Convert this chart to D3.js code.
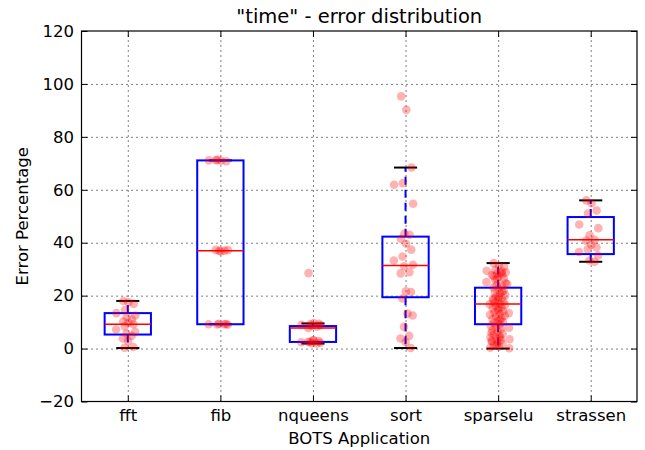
<!DOCTYPE html>
<html>
<head>
<meta charset="utf-8">
<script src="https://cdn.jsdelivr.net/npm/d3@7"></script>
<style>
  body { margin: 0; background: #fff; }
  text { font-family: "DejaVu Sans", sans-serif; }
</style>
</head>
<body>
<div id="chart"></div>
<script>
// categories on the x axis
const apps = ["fft", "fib", "nqueens", "sort", "sparselu", "strassen"];

// box statistics
const q1 = [5.3, 9.2, 2.5, 19.4, 9.2, 35.7];
const medians = [9.2, 37.0, 7.8, 31.4, 16.8, 41.1];
const q3 = [13.4, 71.1, 8.5, 42.3, 23.0, 49.7];
const whiskerLow = [0.2, 9.2, 1.9, 0.2, 0.0, 32.8];
const whiskerHigh = [18.0, 71.1, 9.5, 68.4, 32.3, 56.0];

// individual runs (error %)
const fftPts = [18.0, 17.5, 16.9, 14.6, 13.4, 12.5, 11.9, 11.0, 10.2, 9.7, 9.2, 8.4, 7.2, 6.3, 5.7, 4.8, 3.8, 2.9, 0.6, 0.3];
const fibPts = [71.2, 71.0, 70.8, 71.3, 71.1, 37.2, 36.9, 37.0, 37.3, 36.8, 9.3, 9.1, 9.2, 9.0, 9.4, 9.2];
const nqueensPts = [28.5, 9.6, 9.4, 9.2, 9.0, 8.8, 8.6, 8.3, 7.8, 3.0, 2.8, 2.6, 2.4, 2.2, 2.0, 1.9, 2.5, 3.1];
const sortPts = [95.3, 90.2, 68.4, 62.5, 61.9, 54.7, 43.4, 43.0, 41.5, 39.6, 37.4, 34.8, 33.3, 31.7, 31.1, 28.9, 28.4, 21.6, 21.4, 18.9, 13.2, 12.5, 8.2, 4.8, 3.8, 2.5, 0.2];
const sparseluPts = [32.3, 31.2, 30.9, 29.7, 29.4, 28.8, 28.3, 28.1, 27.4, 27.2, 26.5, 26.0, 25.1, 24.8, 24.0, 23.6, 23.1, 22.7, 21.9, 21.3, 21.0, 20.2, 19.8, 19.1, 18.8, 18.4, 17.9, 17.3, 16.9, 16.5, 16.1, 15.6, 15.2, 14.5, 14.1, 13.7, 13.0, 12.4, 12.1, 11.5, 11.2, 10.4, 10.0, 9.7, 9.1, 8.6, 8.3, 7.4, 6.8, 6.5, 5.6, 5.3, 4.6, 4.2, 3.5, 3.2, 2.7, 2.2, 1.8, 1.2, 0.8, 0.3, 0.1, 28.6, 27.8, 26.2, 21.6, 18.2, 15.0, 12.8, 7.9, 4.3, 2.9, 1.4, 29.1, 24.4, 19.6, 16.7, 13.4, 10.8, 5.9, 3.7];
const strassenPts = [56.0, 54.9, 52.2, 51.0, 46.9, 45.5, 42.8, 41.1, 40.8, 39.2, 38.3, 37.5, 36.5, 35.2, 33.3, 32.8];
const points = [fftPts, fibPts, nqueensPts, sortPts, sparseluPts, strassenPts];

const yTicks = [-20, 0, 20, 40, 60, 80, 100, 120];

const width = 645, height = 450;
const marginLeft = 81.5, marginRight = 8, marginTop = 31, marginBottom = 48.5;
const plotLeft = marginLeft, plotRight = width - marginRight;
const plotTop = marginTop, plotBottom = height - marginBottom;

const x = d3.scaleLinear().domain([0.5, apps.length + 0.5]).range([plotLeft, plotRight]);
const y = d3.scaleLinear().domain([-20, 120]).range([plotBottom, plotTop]);
const pos = apps.map((d, i) => i + 1);

const svg = d3.select("#chart").append("svg")
  .attr("width", width)
  .attr("height", height);

// grid
svg.append("g")
  .attr("transform", `translate(${plotLeft},0)`)
  .call(d3.axisLeft(y).tickValues(yTicks.slice(1, -1)).tickSize(-(plotRight - plotLeft)).tickFormat(""))
  .call(g => g.select(".domain").remove())
  .selectAll("line").attr("stroke", "#000").attr("stroke-width", 1).attr("stroke-dasharray", "1,4");
svg.append("g")
  .attr("transform", `translate(0,${plotBottom})`)
  .call(d3.axisBottom(x).tickValues(pos).tickSize(-(plotBottom - plotTop)).tickFormat(""))
  .call(g => g.select(".domain").remove())
  .selectAll("line").attr("stroke", "#000").attr("stroke-width", 1).attr("stroke-dasharray", "1,4");

// boxes
const bw = 0.25; // half box width in x units
const boxes = svg.append("g");
apps.forEach((a, i) => {
  const c = x(pos[i]);
  const hw = x(pos[i] + bw) - c;
  const cw = hw / 2;
  const g = boxes.append("g");
  // whiskers
  g.append("line").attr("x1", c).attr("x2", c).attr("y1", y(q3[i])).attr("y2", y(whiskerHigh[i]))
    .attr("stroke", "#0000ff").attr("stroke-width", 2).attr("stroke-dasharray", "8,5");
  g.append("line").attr("x1", c).attr("x2", c).attr("y1", y(q1[i])).attr("y2", y(whiskerLow[i]))
    .attr("stroke", "#0000ff").attr("stroke-width", 2).attr("stroke-dasharray", "8,5");
  // caps
  [whiskerLow[i], whiskerHigh[i]].forEach(v => {
    g.append("line").attr("x1", c - cw).attr("x2", c + cw).attr("y1", y(v)).attr("y2", y(v))
      .attr("stroke", "#000").attr("stroke-width", 2);
  });
  // box
  g.append("rect").attr("x", c - hw).attr("width", 2 * hw)
    .attr("y", y(q3[i])).attr("height", y(q1[i]) - y(q3[i]))
    .attr("fill", "none").attr("stroke", "#0000ff").attr("stroke-width", 2);
  // median
  g.append("line").attr("x1", c - hw).attr("x2", c + hw).attr("y1", y(medians[i])).attr("y2", y(medians[i]))
    .attr("stroke", "#ff0000").attr("stroke-width", 1.5);
});

// jittered points (deterministic spread around each category)
const spread = (i) => {
  const a = (i * 0.6180339887) % 1;
  const b = (i * 0.7548776662 + 0.31) % 1;
  return (a + b - 1) * 0.15;
};
const pts = svg.append("g");
points.forEach((arr, k) => {
  pts.selectAll(null).data(arr).enter().append("circle")
    .attr("cx", (d, j) => x(pos[k] + spread(j + 1)))
    .attr("cy", d => y(d))
    .attr("r", 4.3)
    .attr("fill", "#ff0000")
    .attr("fill-opacity", 0.3);
});

// axes with inside ticks
svg.append("g")
  .attr("transform", `translate(${plotLeft},0)`)
  .call(d3.axisLeft(y).tickValues(yTicks).tickSizeInner(-6).tickSizeOuter(0).tickPadding(7.5))
  .call(g => g.select(".domain").remove())
  .call(g => g.selectAll("text").attr("font-size", "16.5px").attr("fill", "#000").attr("font-family", "DejaVu Sans"));
svg.append("g")
  .attr("transform", `translate(${plotRight},0)`)
  .call(d3.axisRight(y).tickValues(yTicks).tickSizeInner(-6).tickSizeOuter(0).tickFormat(""))
  .call(g => g.select(".domain").remove());
svg.append("g")
  .attr("transform", `translate(0,${plotBottom})`)
  .call(d3.axisBottom(x).tickValues(pos).tickFormat((d, i) => apps[i]).tickSizeInner(-6).tickSizeOuter(0).tickPadding(8))
  .call(g => g.select(".domain").remove())
  .call(g => g.selectAll("text").attr("font-size", "16.5px").attr("fill", "#000").attr("font-family", "DejaVu Sans"));
svg.append("g")
  .attr("transform", `translate(0,${plotTop})`)
  .call(d3.axisTop(x).tickValues(pos).tickFormat("").tickSizeInner(-6).tickSizeOuter(0))
  .call(g => g.select(".domain").remove());

// frame
svg.append("rect")
  .attr("x", plotLeft).attr("y", plotTop)
  .attr("width", plotRight - plotLeft).attr("height", plotBottom - plotTop)
  .attr("fill", "none").attr("stroke", "#000").attr("stroke-width", 1.2);

// labels
svg.append("text")
  .attr("x", (plotLeft + plotRight) / 2).attr("y", 23)
  .attr("text-anchor", "middle").attr("font-size", "19.5px")
  .text('"time" - error distribution');
svg.append("text")
  .attr("x", (plotLeft + plotRight) / 2).attr("y", 444)
  .attr("text-anchor", "middle").attr("font-size", "16.5px")
  .text("BOTS Application");
svg.append("text")
  .attr("transform", `translate(28,${(plotTop + plotBottom) / 2}) rotate(-90)`)
  .attr("text-anchor", "middle").attr("font-size", "16.5px")
  .text("Error Percentage");
</script>
</body>
</html>
